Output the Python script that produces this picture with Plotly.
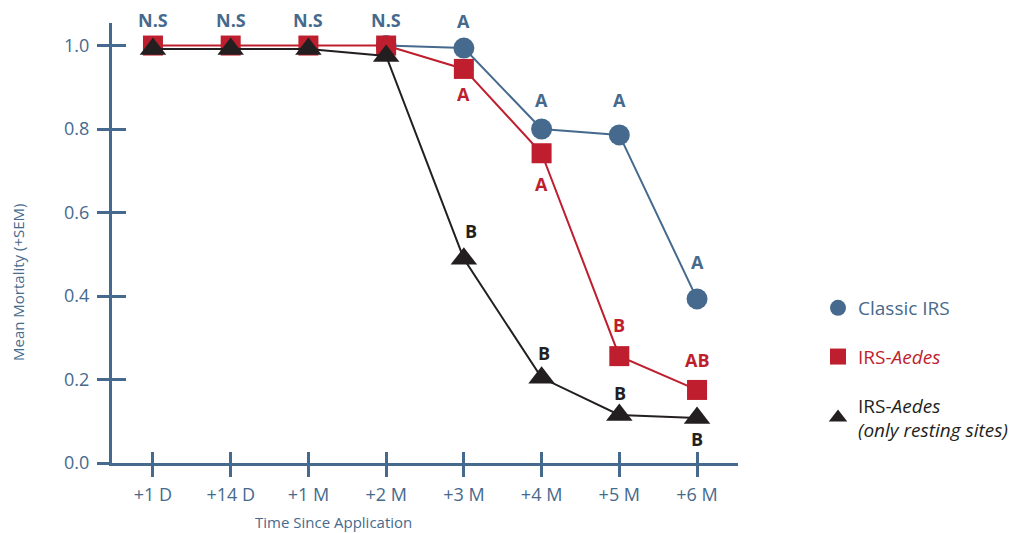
import plotly.graph_objects as go

categories = ["+1 D", "+14 D", "+1 M", "+2 M", "+3 M", "+4 M", "+5 M", "+6 M"]
classic_irs = [None, None, None, 1.0, 0.994, 0.800, 0.786, 0.393]
irs_aedes = [1.0, 1.0, 1.0, 1.0, 0.944, 0.742, 0.256, 0.175]
irs_aedes_resting = [0.992, 0.992, 0.992, 0.975, 0.489, 0.204, 0.115, 0.108]

ns_labels = ["N.S", "N.S", "N.S", "N.S", "", "", "", ""]
classic_labels = ["", "", "", "", "A", "A", "A", "A"]
aedes_labels = ["", "", "", "", "A", "A", "B", "AB"]
resting_labels = ["", "", "", "", "B", "B", "B", "B"]

BLUE = "#466a8d"
RED = "#be1e2d"
BLACK = "#231f20"
FONT = "Open Sans"

x = list(range(len(categories)))

fig = go.Figure()
fig.add_trace(go.Scatter(x=x, y=classic_irs, mode="lines+markers", showlegend=False,
                         line=dict(color=BLUE, width=2),
                         marker=dict(symbol="circle", size=21, color=BLUE)))
fig.add_trace(go.Scatter(x=x, y=irs_aedes, mode="lines+markers", showlegend=False,
                         line=dict(color=RED, width=2),
                         marker=dict(symbol="square", size=20, color=RED)))
fig.add_trace(go.Scatter(x=x, y=irs_aedes_resting, mode="lines+markers", showlegend=False,
                         line=dict(color=BLACK, width=2),
                         marker=dict(symbol="triangle-up", size=23, color=BLACK)))

# legend-only traces
legend_items = [
    ("circle", BLUE, f"<span style='color:{BLUE}'>Classic IRS</span>"),
    ("square", RED, f"<span style='color:{RED}'>IRS-<i>Aedes</i></span>"),
    ("triangle-up", BLACK, "IRS-<i>Aedes</i><br><i>(only resting sites)</i>"),
]
for i, (sym, col, name) in enumerate(legend_items):
    fig.add_trace(go.Scatter(x=[None], y=[None], mode="markers", name=name,
                             legendgroup=f"g{i}",
                             marker=dict(symbol=sym, size=20, color=col)))

# invisible trace for overlay axes (tick crossing)
fig.add_trace(go.Scatter(x=[None], y=[None], xaxis="x2", yaxis="y2", showlegend=False))

def add_labels(labels, values, color, shifts, xshifts=None):
    for i, (lab, v) in enumerate(zip(labels, values)):
        if not lab:
            continue
        fig.add_annotation(x=x[i], y=v, text=f"<b>{lab}</b>", showarrow=False,
                           yshift=shifts[i], xshift=(xshifts[i] if xshifts else 0),
                           font=dict(family=FONT, size=18, color=color, weight=800))

add_labels(ns_labels, irs_aedes, BLUE, [26] * 8)
add_labels(classic_labels, classic_irs, BLUE, [0, 0, 0, 0, 27, 29, 35, 37])
add_labels(aedes_labels, irs_aedes, RED, [0, 0, 0, 0, -25, -31, 31, 30])
add_labels(resting_labels, irs_aedes_resting, BLACK, [0, 0, 0, 0, 28, 25, 22, -21],
           [0, 0, 0, 0, 7, 2, 1, 0])

# axis titles
fig.add_annotation(xref="paper", yref="paper", x=(333 - 112) / 626, y=(463 - 522) / 440,
                   xanchor="center", yanchor="middle",
                   text="Time Since Application", showarrow=False,
                   font=dict(family=FONT, size=15, color=BLUE))
fig.add_annotation(xref="paper", yref="paper", x=(18 - 112) / 626, y=(463 - 283) / 440,
                   xanchor="center", yanchor="middle",
                   text="Mean Mortality (+SEM)", showarrow=False, textangle=-90,
                   font=dict(family=FONT, size=15, color=BLUE))

xr = [-0.527, 7.527]
yr = [0, 1.054]
axis_common = dict(showgrid=False, zeroline=False, linecolor=BLUE, linewidth=3,
                   tickcolor=BLUE, tickwidth=3)
fig.update_layout(
    width=1027, height=533,
    margin=dict(l=112, r=289, t=23, b=70),
    paper_bgcolor="white", plot_bgcolor="white",
    font=dict(family=FONT, color=BLUE),
    xaxis=dict(range=xr, tickmode="array", tickvals=x, ticktext=categories,
               showline=True, ticks="outside", ticklen=11, ticklabelstandoff=2,
               tickfont=dict(family=FONT, size=18, color=BLUE), **axis_common),
    yaxis=dict(range=yr, tickmode="array", tickvals=[0, 0.2, 0.4, 0.6, 0.8, 1.0],
               ticktext=["0.0", "0.2", "0.4", "0.6", "0.8", "1.0"],
               showline=True, ticks="outside", ticklen=12, ticklabelstandoff=4,
               tickfont=dict(family=FONT, size=18, color=BLUE), **axis_common),
    xaxis2=dict(range=xr, overlaying="x", tickmode="array", tickvals=x,
                showticklabels=False, ticks="inside", ticklen=11, showline=False,
                **axis_common),
    yaxis2=dict(range=yr, overlaying="y", tickmode="array",
                tickvals=[0, 0.2, 0.4, 0.6, 0.8, 1.0], showticklabels=False,
                ticks="inside", ticklen=14, showline=False, **axis_common),
    legend=dict(x=(818 - 112) / 626, y=(463 - 289) / 440, xanchor="left", yanchor="top",
                font=dict(family=FONT, size=19, color=BLACK), tracegroupgap=21,
                bgcolor="rgba(0,0,0,0)", itemsizing="trace"),
)

fig.write_html("out.html")
